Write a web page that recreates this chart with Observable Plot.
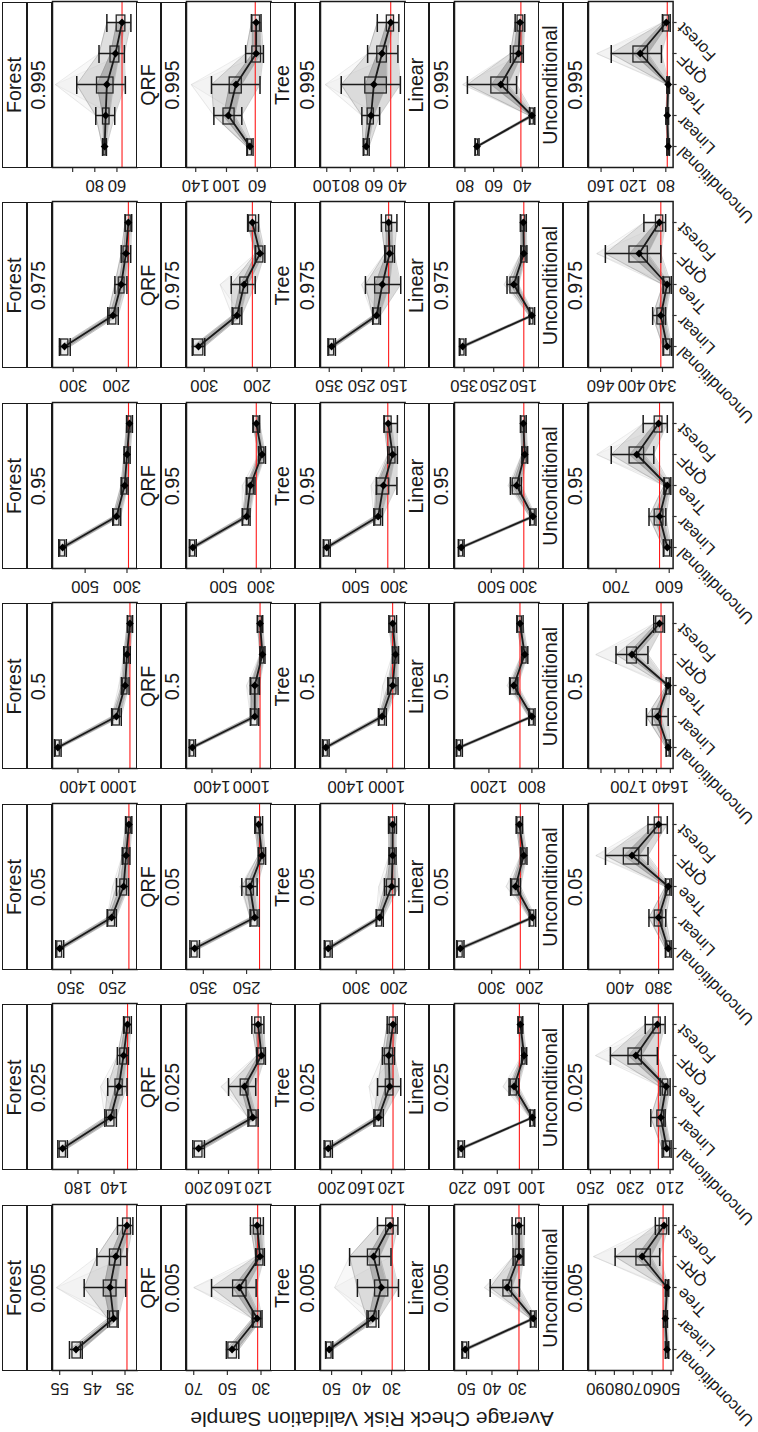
<!DOCTYPE html>
<html><head><meta charset="utf-8">
<script src="https://cdn.jsdelivr.net/npm/d3@7"></script>
<script src="https://cdn.jsdelivr.net/npm/@observablehq/plot@0.6"></script>
<style>
html,body{margin:0;padding:0;background:#fff;}
#page{position:relative;width:758px;height:1432px;overflow:hidden;background:#fff;}
#orig{position:absolute;left:0;top:0;width:1432px;height:758px;transform-origin:0 0;transform:translate(0,1432px) rotate(-90deg);font-family:"Liberation Sans",Arial,sans-serif;color:#1a1a1a;}
.strip{position:absolute;box-sizing:border-box;border:1.5px solid #1a1a1a;background:#fff;display:flex;align-items:center;justify-content:center;font-size:19.7px;line-height:1;}
.panel{position:absolute;}
#ytitle{position:absolute;white-space:nowrap;font-size:21px;transform:translate(-50%,-50%) rotate(-90deg);}
</style></head><body>
<div id="page"><div id="orig"><div id="ytitle">Average Check Risk Validation Sample</div></div></div>
<script>
// ---------------- data ----------------
const quantiles = ["0.005","0.025","0.05","0.5","0.95","0.975","0.995"];
const methods = ["Forest","QRF","Tree","Linear","Unconditional"];
const estimators = ["Unconditional","Linear","Tree","QRF","Forest"];

// Forest
const forestDomain = [[31.3,57.2],[114.4,208.3],[191.4,393.7],[821,1649],[251.7,656],[152.2,348],[41.8,118.2]];
const forestTicks = [[35,45,55],[140,180],[250,350],[1000,1400],[300,500],[200,300],[60,80,100]];
const forestLabels = [[35,45,55],[140,180],[250,350],[1000,1400],[300,500],[200,300],[60,80]];
const forestRed = [34.4,125,211,891,292.8,172.4,55.4];
const forestMean = [[50,38.5,39.6,37.8,34.4],[197.1,143.8,134.7,129.4,125.1],[376.5,252.3,223.6,217.8,211],[1597,1023,938,920,891],[607.7,350.3,311.2,299.7,288.2],[320.2,208,189,178,172.4],[71.1,70.2,69.1,61.3,55.4]];
const forestQ1 = [[48.5,37.3,37.6,36.2,33.2],[193.4,139.5,130.4,125.6,122.4],[370.8,244.3,215.5,212,206.4],[1578,990,915,900,875],[596,336,300,290,279],[311.3,200.2,181.3,172.4,167],[70.2,66.7,63.1,57.8,52.4]];
const forestQ3 = [[51.1,39.6,41.5,39.6,35.6],[200.3,148,138.4,133.1,127.8],[382.2,260.4,231.6,223.6,215.5],[1616,1056,961,940,907],[619,362,322,310,297],[328,215.8,194.7,183.6,178],[72,72.6,78,65.8,60.2]];
const forestLo = [[48.1,37.1,34.8,34.4,32.6],[191.8,137.4,125.6,124,120.8],[367,241,212,208.6,204],[1565,976,900,888,865],[590,330,295,285,274],[307,195.8,175.8,167,164.7],[69.5,62,52.4,53.3,47.4]];
const forestHi = [[52,40.3,47.5,43.6,37.3],[202.4,150.2,147,136.3,129.4],[386,263,240.8,227,219],[1630,1070,975,952,917],[626,368,328,314,302],[332,220,203.6,189,180.2],[73,79.1,96.3,76.2,69.1]];
const forestPeak = [[2,56],[2,155],[2,250],[2,1000],[2,330],[2,205],[2,115.6]];

// QRF
const qrfDomain = [[24,74.3],[103.2,216],[193.3,388.9],[800,1658.5],[246,697],[173.6,333.6],[42,152]];
const qrfTicks = [[30,50,70],[120,160,200],[250,350],[1000,1400],[300,500],[200,300],[60,100,140]];
const qrfLabels = qrfTicks;
const qrfRed = [32,120.5,220,912,325,209,62.6];
const qrfMean = [[47.2,32.3,42.9,30.6,32.3],[199.9,127.6,138.6,116,120.5],[370,231.1,242.2,214.4,222.2],[1600,965.8,965.8,887.8,912],[663.7,376.5,356,294.4,325],[310.9,238.1,224.5,194.5,209],[69.5,97.6,87.6,61.4,61.4]];
const qrfQ1 = [[44.3,30,38.6,28.6,30],[194.7,122.5,133.4,112.1,116],[363.3,224.4,233.3,209,216.7],[1580,937,927,870,893],[651,363.7,338,282,312.4],[301.8,231.8,217.2,188.2,201.8],[67,89.5,80.1,55.1,56.4]];
const qrfQ3 = [[49.4,34.3,46.6,32.3,34.3],[205,132.1,143.7,120.5,124.4],[376.7,238.9,250,220,227.8],[1620,1000,1000,905,931],[676,394.4,371.4,307,338],[320,244.5,231.8,201.8,215.4],[72,103.9,95.8,66.4,66.4]];
const qrfLo = [[43.2,29.4,32.9,28,28.6],[192.1,120.5,123.7,110.8,112.8],[359,221,225.6,206,213],[1568,925,918,862,885],[645,358,332,276,307],[299,229,203.6,185.4,197.3],[65.5,80.1,56.4,52,55.1]];
const qrfHi = [[50.6,35.2,59.4,33.2,36.3],[207.6,134,159.9,122.5,128.9],[381,242,261,223,231],[1632,1010,1012,913,940],[682,400,378,313,343],[322.7,247.2,249,203.6,218],[73.5,116.4,119.5,75.1,67.6]];
const qrfPeak = [[2,70],[2,170],[2,265],[2,1050],[2,400],[2,270],[2,145.8]];

// Tree
const treeDomain = [[25.5,53.7],[101.9,214.8],[170,395],[821,1649],[242.5,682.5],[115.7,377],[33.5,105.3]];
const treeTicks = [[30,40,50],[120,160,200],[200,300],[1000,1400],[300,500],[150,250,350],[40,60,80,100]];
const treeLabels = treeTicks;
const treeRed = [29.8,118,203.2,943,332.5,166.6,45.7];
const treeMean = [[50.8,36.3,33.4,36,30.5],[204.5,137.4,122.5,123.8,118],[374.5,237.7,205.7,203.2,203.2],[1597,1046.6,943,915,943],[650,382.5,355,307.5,330],[342.7,203.9,186,163.6,166.6],[66.5,62.4,60,53.1,45.7]];
const treeQ1 = [[50,35,31.1,33.9,29.3],[201,133.5,117.4,118,114.2],[368,231.3,195.5,197,197],[1578,1018,905.5,896,920],[638,367.5,325,292.5,312.5],[335,195,163.6,153,156],[65,60,49,49,42.9]];
const treeQ3 = [[51.6,37.6,35.5,37.9,31.8],[208,141.3,127.7,129,122.5],[381,244,218.5,209.5,209.5],[1616,1070,976,934,966],[662,397.5,387.5,322.5,347.5],[350,212.8,208.3,174,174],[68,65.3,67.3,57.1,49]];
const treeLo = [[49.6,34.3,27.7,30.2,27.9],[199,131,107.7,116,112.5],[364,228,186.6,194,193],[1565,1005,890,885,905],[632,360,285,282.5,282.5],[331,192,129.2,148.6,141],[64,55.1,37.5,39.6,38.8]];
const treeHi = [[52,38.2,41.4,44,34.7],[210,143.5,138.7,132.2,125.8],[385,247,225,213,214],[1630,1082,990,945,980],[668,405,392.5,332.5,352.5],[354,215.8,238.2,178.5,189],[69,70.2,87.7,65.3,57.1]];
const treePeak = [[2,49],[2,150],[2,240],[2,1040],[2,420],[2,250],[2,101.2]];

// Linear
const linearDomain = [[21.5,54.7],[87.5,234.2],[175,398],[733,1520],[201.5,730],[96.8,382.3],[28.3,87.3]];
const linearTicks = [[30,40,50],[100,160,220],[200,300],[800,1200],[300,500],[150,250,350],[40,60,80]];
const linearLabels = linearTicks;
const linearRed = [29.4,121.7,224.5,911,297,148.4,41];
const linearMean = [[50.5,23.8,34,29.4,29.4],[222.5,99.2,130.9,113.4,120],[382.8,192.7,237,215.5,227],[1475.6,800,968.9,866.7,911],[688.2,240.4,342,291.2,300.1],[354.9,121,182.3,148.4,150],[71.6,33.3,55,42.6,41.6]];
const linearQ1 = [[49.7,23.1,32.1,27.9,28.3],[219,96.7,125.9,110.9,117.5],[376.5,187.6,228.2,210.4,221.9],[1458,782,942.2,849,893],[676,228.5,321,279,288],[348.5,116,169.4,142,143.6],[70.8,32,50,40,39.3]];
const linearQ3 = [[51.3,24.5,35.5,30.7,30.5],[226,101.7,136.7,115.9,122.5],[389,197.8,245.9,220.6,232.1],[1493,818,995.6,884,929],[700,252.3,366,303,312],[361.3,126,193.6,154.8,156.4],[72.4,34.3,61.6,46,43.3]];
const linearLo = [[49.2,22.7,29.2,27.5,27.3],[217,95,123,109,115.8],[373,184,224,207,218.5],[1447,771,931,838,882],[670,221,312,273,282],[344,112,166,138,140],[70.2,31.3,44,39.3,38.3]];
const linearHi = [[51.8,24.9,40.7,31.7,32.1],[228,103.4,139.6,117.6,124.2],[392,201,250,224,235.5],[1504,829,1007,895,940],[706,260,380.7,309,318],[366,130,205,158.5,160],[73,35,78.3,48.3,45]];
const linearPeak = [[2,43],[2,150],[2,262],[2,1030],[2,395],[2,215],[2,81.6]];

// Unconditional
const uncDomain = [[48.9,93.7],[208.5,251],[372.5,416.3],[1636,1758],[592.7,751.8],[319.4,483.4],[71,175.5]];
const uncTicks = [[50,60,70,80,90],[210,220,230,240,250],[380,400],[1640,1660,1680,1700,1720,1740],[600,700],[340,400,460],[80,120,160]];
const uncLabels = [[50,60,70,80,90],[210,230,250],[380,400],[1640,1700],[600,700],[340,400,460],[80,120,160]];
const uncRed = [54.2,215.9,380,1653.4,618.2,343.2,78.2];
const uncMean = [[52.1,53,52.1,65.3,53.7],[211.7,214.7,212,227.2,216.4],[375,380,375,393.8,380],[1643.1,1658.3,1643.1,1695.3,1655.6],[603.6,618.2,603.6,660.9,620],[331,343.2,331,385.3,346],[77,78.2,77,111.6,79.4]];
const uncQ1 = [[51.6,52.4,51.6,60.7,52],[210,213,210.9,224.2,214.7],[374,378,374,390,378.5],[1641,1653.4,1641,1688.3,1650],[598.2,611,599,647.3,612.7],[324.5,336.7,325.4,368.4,338.5],[76,77.2,76,102,75.8]];
const uncQ3 = [[52.6,53.6,52.6,68.3,56],[213,216.4,213.7,230.9,218.4],[376,382,376,398,382],[1645,1665.3,1645,1702.2,1660.4],[609,627.3,608,674.5,627.3],[336.7,349.8,336.7,404,352.6],[78,79.2,78,120,83]];
const uncLo = [[51.2,51.9,51.2,56,51.2],[209.5,212.5,210,216.4,212.5],[373.5,376.3,373.5,385.5,375.5],[1640,1643.1,1640,1672.3,1648.5],[596,606.4,597,629,603.6],[322,333.9,323,343.2,333.9],[75.5,76.6,75.5,85.4,74.6]];
const uncHi = [[53,54,53,79.6,58.3],[214,219.7,215,240,222.5],[376.5,385,376.5,407.5,385.5],[1646,1674.4,1646,1718.3,1663.9],[611,638,610,709,649],[339,359,339,450.7,376],[78.5,79.8,78.5,147.4,84.2]];
const uncPeak = [[3,91.1],[3,247.5],[3,412.5],[3,1747.5],[3,736.3],[3,467.5],[3,165.4]];

// ---------------- layout ----------------
const L = {colX0: 61, colStep: 200.5, panelW: 166, rowX0: 2, rowStep: 134.1, strip1H: 24.5, strip2H: 25, panelH: 84.6, mLeft: 40, mBottom: 92};
const FONT = '"Liberation Sans", Arial, sans-serif';

const methodTables = [
  [forestDomain, forestTicks, forestLabels, forestRed, forestMean, forestQ1, forestQ3, forestLo, forestHi, forestPeak],
  [qrfDomain, qrfTicks, qrfLabels, qrfRed, qrfMean, qrfQ1, qrfQ3, qrfLo, qrfHi, qrfPeak],
  [treeDomain, treeTicks, treeLabels, treeRed, treeMean, treeQ1, treeQ3, treeLo, treeHi, treePeak],
  [linearDomain, linearTicks, linearLabels, linearRed, linearMean, linearQ1, linearQ3, linearLo, linearHi, linearPeak],
  [uncDomain, uncTicks, uncLabels, uncRed, uncMean, uncQ1, uncQ3, uncLo, uncHi, uncPeak]
];

const orig = document.getElementById("orig");
const ytitle = document.getElementById("ytitle");
ytitle.style.left = "13px";
ytitle.style.top = "372px";

function addStrip(text, left, top, w, h) {
  const d = document.createElement("div");
  d.className = "strip";
  Object.assign(d.style, {left: left + "px", top: top + "px", width: w + "px", height: h + "px"});
  d.textContent = text;
  orig.appendChild(d);
}

methods.forEach((mname, k) => {
  const [dom, tks, lbls, red, mean, q1, q3, lo, hi, peak] = methodTables[k];
  const isBottom = k === methods.length - 1;
  quantiles.forEach((qname, j) => {
    const left = L.colX0 + j * L.colStep;
    const top = L.rowX0 + k * L.rowStep;
    addStrip(mname, left, top, L.panelW, L.strip1H + 0.5);
    addStrip(qname, left, top + L.strip1H, L.panelW, L.strip2H + 0.5);

    const rows = estimators.map((e, i) => ({est: e, mean: mean[j][i], q1: q1[j][i], q3: q3[j][i], lo: lo[j][i], hi: hi[j][i]}));
    const [pi, pv] = peak[j];
    const fan = rows.map((r, i) => ({est: r.est, hi: r.hi, lo: r.lo, extHi: i === pi ? pv : r.hi, extLo: i === pi ? pv : r.lo}));
    const gray = [];
    const addSeries = (name, vals, op) => vals.forEach((v, i) => gray.push({s: name, est: estimators[i], v, op}));
    addSeries("lo", rows.map(r => r.lo), 0.3);
    addSeries("q1", rows.map(r => r.q1), 0.35);
    addSeries("q3", rows.map(r => r.q3), 0.35);
    addSeries("hi", rows.map(r => r.hi), 0.3);
    addSeries("extHi", fan.map(r => r.extHi), 0.14);
    addSeries("extLo", fan.map(r => r.extLo), 0.09);

    const marks = [
      Plot.areaY(fan, {x: "est", y1: "hi", y2: "extHi", fill: "#9a9a9a", fillOpacity: 0.07}),
      Plot.areaY(fan, {x: "est", y1: "lo", y2: "extLo", fill: "#9a9a9a", fillOpacity: 0.05}),
      Plot.areaY(rows, {x: "est", y1: "lo", y2: "hi", fill: "#8c8c8c", fillOpacity: 0.28}),
      Plot.areaY(rows, {x: "est", y1: "q1", y2: "q3", fill: "#4d4d4d", fillOpacity: 0.3}),
      Plot.line(gray, {x: "est", y: "v", z: "s", stroke: "#7a7a7a", strokeOpacity: "op", strokeWidth: 1}),
      Plot.ruleY([red[j]], {stroke: "#ff1a1a", strokeWidth: 1.1}),
      Plot.barY(rows, {x: "est", y1: "q1", y2: "q3", fill: "#b5b5b5", fillOpacity: 0.3, stroke: "#262626", strokeWidth: 1.3}),
      Plot.ruleX(rows, {x: "est", y1: "lo", y2: "hi", stroke: "#1a1a1a", strokeWidth: 1.5}),
      Plot.tickY(rows, {x: "est", y: "lo", stroke: "#1a1a1a", strokeWidth: 1.5, insetLeft: -1, insetRight: -1}),
      Plot.tickY(rows, {x: "est", y: "hi", stroke: "#1a1a1a", strokeWidth: 1.5, insetLeft: -1, insetRight: -1}),
      Plot.line(rows, {x: "est", y: "mean", stroke: "#1a1a1a", strokeWidth: 1.8}),
      Plot.dot(rows, {x: "est", y: "mean", symbol: "diamond2", r: 3.5, fill: "#000", stroke: "none"}),
      Plot.frame({stroke: "#1a1a1a", strokeWidth: 1.5}),
      Plot.ruleY(tks[j], {y: d => d, insetLeft: -4, insetRight: L.panelW, stroke: "#333", strokeWidth: 1.2}),
      Plot.text(lbls[j], {y: d => d, text: d => String(d), frameAnchor: "left", dx: -17.7, rotate: -90, textAnchor: "middle", lineAnchor: "middle", fontSize: 16.7, fill: "#1a1a1a"})
    ];
    if (isBottom) {
      marks.push(Plot.ruleX(estimators, {x: d => d, insetTop: L.panelH, insetBottom: -4, stroke: "#333", strokeWidth: 1.2}));
      marks.push(Plot.text(estimators, {x: d => d, text: d => d, frameAnchor: "bottom", dx: -3, dy: 7, rotate: -45, textAnchor: "end", lineAnchor: "middle", fontSize: 16.5, fill: "#1a1a1a"}));
    }

    const w = L.mLeft + L.panelW;
    const h = L.panelH + (isBottom ? L.mBottom : 0);
    const svg = Plot.plot({
      width: w, height: h,
      marginLeft: L.mLeft, marginRight: 0, marginTop: 0, marginBottom: isBottom ? L.mBottom : 0,
      x: {type: "band", domain: estimators, paddingInner: 0.5, paddingOuter: 0.35, axis: null},
      y: {domain: dom[j], axis: null},
      style: {fontFamily: FONT, fontSize: "16.7px", overflow: "visible", background: "none", maxWidth: "none"},
      marks
    });
    const holder = document.createElement("div");
    holder.className = "panel";
    Object.assign(holder.style, {left: (left - L.mLeft) + "px", top: (top + L.strip1H + L.strip2H) + "px", width: w + "px", height: h + "px"});
    holder.appendChild(svg);
    orig.appendChild(holder);
  });
});
</script>
</body></html>
